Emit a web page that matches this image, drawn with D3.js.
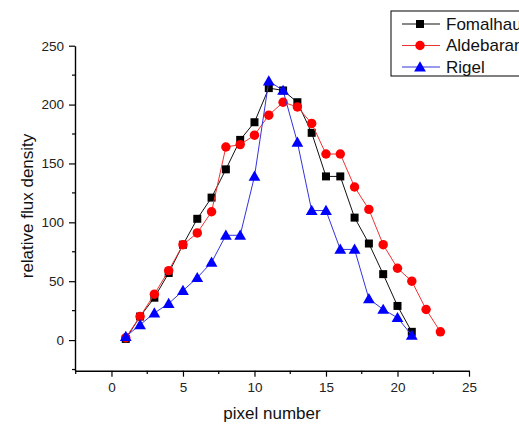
<!DOCTYPE html>
<html><head><meta charset="utf-8">
<script src="https://cdn.jsdelivr.net/npm/d3@7"></script>
<style>body{margin:0;background:#fff}svg{display:block}text{font-family:Arial,"Liberation Sans",sans-serif}</style>
</head><body>
<script>
const seriesNames = ["Fomalhaut", "Aldebaran", "Rigel"];
const fomalhautX = [1,2,3,4,5,6,7,8,9,10,11,12,13,14,15,16,17,18,19,20,21];
const fomalhautY = [1,20,36,57,81,103,121,145,170,185,214,212,202,176,139,139,104,82,56,29,7];
const aldebaranX = [1,2,3,4,5,6,7,8,9,10,11,12,13,14,15,16,17,18,19,20,21,22,23];
const aldebaranY = [2,20,39,59,81,91,109,164,166,174,191,202,198,184,158,158,130,111,81,61,50,26,7];
const rigelX = [1,2,3,4,5,6,7,8,9,10,11,12,13,14,15,16,17,18,19,20,21];
const rigelY = [3,13,23,31,42,53,66,89,89,139,220,212,168,110,110,77,77,35,26,19,4];
const xTicks = [0,5,10,15,20,25];
const yTicks = [0,50,100,150,200,250];
const xMinorTicks = [-2.5,2.5,7.5,12.5,17.5,22.5];
const yMinorTicks = [-25,25,75,125,175,225];

const W = 519, H = 426;
const svg = d3.select("body").append("svg").attr("width", W).attr("height", H);
const x = d3.scaleLinear().domain([-2.55, 25]).range([75, 469]);
const y = d3.scaleLinear().domain([-26, 250]).range([370.7, 45.7]);

// axes
const xAxis = svg.append("g").attr("transform", "translate(0,370.7)")
  .call(d3.axisBottom(x).tickValues(xTicks).tickSize(6).tickPadding(6).tickSizeOuter(0));
const yAxis = svg.append("g").attr("transform", "translate(75,0)")
  .call(d3.axisLeft(y).tickValues(yTicks).tickSize(6).tickPadding(5).tickSizeOuter(0));
[xAxis, yAxis].forEach(g => {
  g.select(".domain").attr("stroke", "#000").attr("stroke-width", 1.4);
  g.selectAll(".tick line").attr("stroke", "#000").attr("stroke-width", 1.2);
  g.selectAll("text").attr("font-size", 13.5).attr("fill", "#222").attr("font-family", "Arial, Liberation Sans, sans-serif");
});
// minor ticks
svg.append("g").selectAll("line").data(xMinorTicks).join("line")
  .attr("x1", d => x(d)).attr("x2", d => x(d)).attr("y1", 370.7).attr("y2", 374)
  .attr("stroke", "#000").attr("stroke-width", 1.2);
svg.append("g").selectAll("line").data(yMinorTicks).join("line")
  .attr("x1", 72).attr("x2", 75).attr("y1", d => y(d)).attr("y2", d => y(d))
  .attr("stroke", "#000").attr("stroke-width", 1.2);

// labels
svg.append("text").attr("x", 272).attr("y", 419).attr("text-anchor", "middle")
  .attr("font-size", 17).attr("fill", "#111").text("pixel number");
svg.append("text").attr("transform", "translate(33,206) rotate(-90)").attr("text-anchor", "middle")
  .attr("font-size", 17).attr("fill", "#111").text("relative flux density");

const series = [
  {name: seriesNames[0], xs: fomalhautX, ys: fomalhautY, line: "#111", fill: "#000", shape: "square"},
  {name: seriesNames[1], xs: aldebaranX, ys: aldebaranY, line: "#e33", fill: "#ff0000", shape: "circle"},
  {name: seriesNames[2], xs: rigelX, ys: rigelY, line: "#33d", fill: "#0000ff", shape: "triangle"}
];
const symbolFor = s => s === "square" ? d3.symbol(d3.symbolSquare, 64) :
  s === "circle" ? d3.symbol(d3.symbolCircle, 70) : d3.symbol(d3.symbolTriangle, 60);
const lineGen = d3.line().x(d => x(d[0])).y(d => y(d[1]));

series.forEach(s => {
  const pts = s.xs.map((v, i) => [v, s.ys[i]]);
  svg.append("path").datum(pts).attr("d", lineGen).attr("fill", "none")
    .attr("stroke", s.line).attr("stroke-width", 1);
  svg.append("g").selectAll("path").data(pts).join("path")
    .attr("transform", d => `translate(${x(d[0])},${y(d[1]) + (s.shape === "triangle" ? 1 : 0)})`)
    .attr("d", symbolFor(s.shape)()).attr("fill", s.fill);
});

// legend
const lg = svg.append("g");
lg.append("rect").attr("x", 391).attr("y", 11).attr("width", 140).attr("height", 65)
  .attr("fill", "#fff").attr("stroke", "#000").attr("stroke-width", 1);
series.forEach((s, i) => {
  const cy = 24 + i * 21.5;
  lg.append("line").attr("x1", 402).attr("x2", 440).attr("y1", cy).attr("y2", cy)
    .attr("stroke", s.line).attr("stroke-width", 1);
  lg.append("path").attr("transform", `translate(420,${cy + (s.shape === "triangle" ? 1 : 0)})`)
    .attr("d", symbolFor(s.shape)()).attr("fill", s.fill);
  lg.append("text").attr("x", 446).attr("y", cy + 5.8).attr("font-size", 17).attr("fill", "#111").text(s.name);
});
</script>
</body></html>
